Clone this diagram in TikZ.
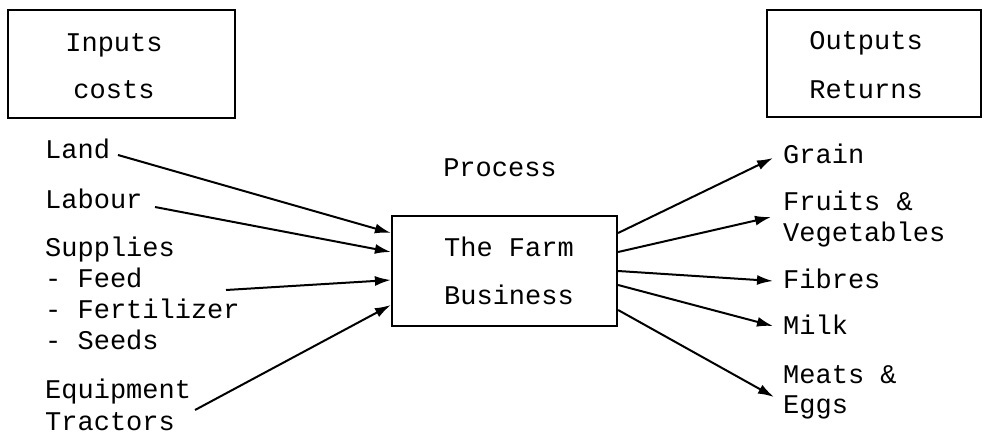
\documentclass[tikz,border=0pt]{standalone}
\usepackage{fontspec}
\setmainfont{Liberation Mono}
\usetikzlibrary{arrows.meta}
\begin{document}
\begin{tikzpicture}[x=1pt,y=-1pt,
  every node/.style={inner sep=0pt, font=\fontsize{27}{31}\selectfont},
  box/.style={draw, line width=2.2pt, rectangle, minimum width=#1},
  lbl/.style={anchor=base west, align=left},
  ctr/.style={anchor=base, align=center},
  arr/.style={line width=2pt, -{Latex[length=16pt,width=10pt]}}]
\useasboundingbox (0,0) rectangle (984,436);
% boxes
\node[box=227pt, minimum height=108pt] (inputs) at (121.5,64) {};
\node[box=214pt, minimum height=107pt] (outputs) at (874,63.5) {};
\node[box=225pt, minimum height=110pt] (farm) at (504.5,271) {};
% box texts
\node[ctr] (intxt) at (114,52) {Inputs};
\node[ctr] (costs) at (114,98) {costs};
\node[ctr] (outtxt) at (866,50) {Outputs};
\node[ctr] (returns) at (866,98) {Returns};
\node[ctr] (farm1) at (509,256) {The Farm};
\node[ctr] (farm2) at (509,304) {Business};
\node[ctr] (process) at (500,176) {Process};
% inputs
\node[lbl] (land) at (45,158) {Land};
\node[lbl] (labour) at (45,208) {Labour};
\node[lbl] (sup1) at (45,256) {Supplies};
\node[lbl] (sup2) at (45,287) {- Feed};
\node[lbl] (sup3) at (45,318) {- Fertilizer};
\node[lbl] (sup4) at (45,349) {- Seeds};
\node[lbl] (equip) at (45,398) {Equipment};
\node[lbl] (tract) at (45,430) {Tractors};
% outputs
\node[lbl] (grain) at (783,163) {Grain};
\node[lbl] (fruits) at (783,210) {Fruits \&};
\node[lbl] (veg) at (783,241) {Vegetables};
\node[lbl] (fibres) at (783,288) {Fibres};
\node[lbl] (milk) at (783,334) {Milk};
\node[lbl] (meats) at (783,383) {Meats \&};
\node[lbl] (eggs) at (783,413) {Eggs};
% free ends
\coordinate (cland) at (118,155);
\coordinate (clabour) at (155,207);
\coordinate (csup) at (226,290);
\coordinate (cequip) at (195,410);
\coordinate (cgrain) at (773,158);
\coordinate (cfruits) at (771,217);
\coordinate (cfibres) at (773,281);
\coordinate (cmilk) at (773,326);
\coordinate (cmeats) at (774,397);
% connectors
\draw[arr] (cland) -- ([yshift=38pt]farm.west);
\draw[arr] (clabour) -- ([yshift=19pt]farm.west);
\draw[arr] (csup) -- ([yshift=-9pt]farm.west);
\draw[arr] (cequip) -- ([yshift=-34pt]farm.west);
\draw[arr] ([yshift=38pt]farm.east) -- (cgrain);
\draw[arr] ([yshift=19pt]farm.east) -- (cfruits);
\draw[arr] (farm.east) -- (cfibres);
\draw[arr] ([yshift=-14pt]farm.east) -- (cmilk);
\draw[arr] ([yshift=-39pt]farm.east) -- (cmeats);
\end{tikzpicture}
\end{document}
